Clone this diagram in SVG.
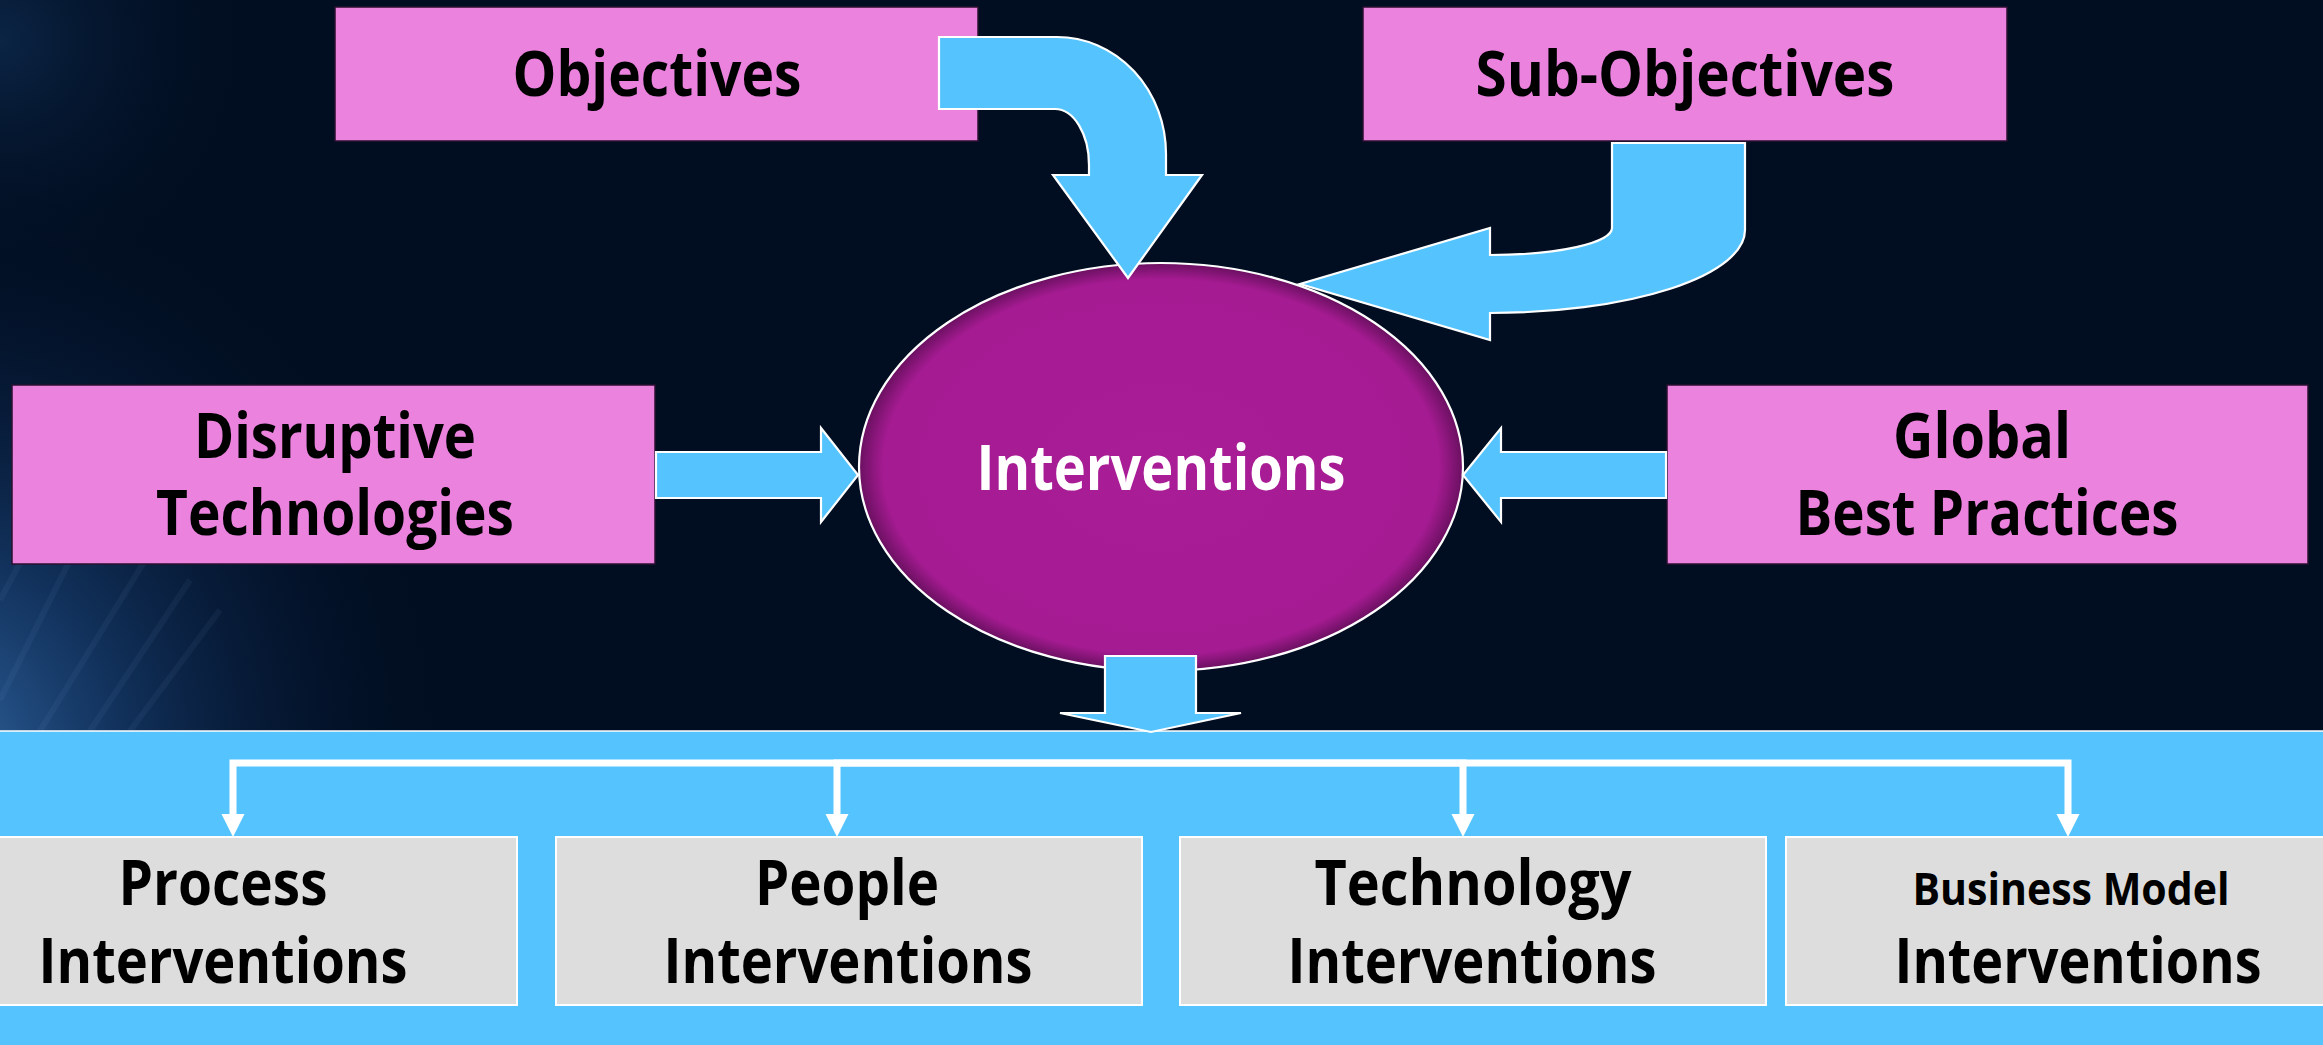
<svg xmlns="http://www.w3.org/2000/svg" width="2323" height="1045" viewBox="0 0 2323 1045">
  <style>
    .lbl { font-family: "Open Sans", "Noto Sans", "DejaVu Sans", sans-serif; font-weight: 700; font-size: 62px; text-anchor: middle; fill: #000000; }
    .small { font-size: 45px; }
    .light { fill: #ffffff; }
    .pink { fill: #EA82DE; stroke: #2a1030; stroke-width: 1.5; }
    .grey { fill: #DDDDDD; stroke: #ffffff; stroke-width: 2; }
    .block { fill: #55C4FE; stroke: #ffffff; stroke-width: 2.2; stroke-linejoin: miter; }
    .tree { fill: none; stroke: #ffffff; stroke-width: 7; }
  </style>
  <defs>
    <radialGradient id="glow" gradientUnits="userSpaceOnUse" cx="-60" cy="760" r="520" gradientTransform="translate(-60 760) scale(1 1.15) translate(60 -760)">
      <stop offset="0" stop-color="#3a76b8" stop-opacity="0.85"/>
      <stop offset="0.35" stop-color="#1f4f8c" stop-opacity="0.55"/>
      <stop offset="0.7" stop-color="#0e2a55" stop-opacity="0.25"/>
      <stop offset="1" stop-color="#010E21" stop-opacity="0"/>
    </radialGradient>
    <radialGradient id="corner" gradientUnits="userSpaceOnUse" cx="0" cy="40" r="260">
      <stop offset="0" stop-color="#12345e" stop-opacity="0.6"/>
      <stop offset="1" stop-color="#010E21" stop-opacity="0"/>
    </radialGradient>
    <radialGradient id="orb" cx="0.5" cy="0.5" r="0.5">
      <stop offset="0" stop-color="#A91D96"/>
      <stop offset="0.92" stop-color="#A51B92"/>
      <stop offset="1" stop-color="#6A1060"/>
    </radialGradient>
    <marker id="tip" markerUnits="userSpaceOnUse" markerWidth="24" markerHeight="24" refX="0" refY="11.5" orient="auto">
      <path d="M0,0 L23,11.5 L0,23 Z" fill="#ffffff"/>
    </marker>
  </defs>

  <!-- backdrop -->
  <rect x="0" y="0" width="2323" height="1045" fill="#010E21"/>
  <rect x="0" y="0" width="700" height="731" fill="url(#glow)"/>
  <rect x="0" y="0" width="300" height="300" fill="url(#corner)"/>
  <g stroke="#8fb8ea" stroke-width="6" opacity="0.06">
    <line x1="0" y1="700" x2="120" y2="460"/>
    <line x1="40" y1="731" x2="170" y2="520"/>
    <line x1="90" y1="731" x2="190" y2="580"/>
    <line x1="0" y1="600" x2="70" y2="470"/>
    <line x1="130" y1="731" x2="220" y2="610"/>
  </g>

  <!-- lower band -->
  <rect x="-5" y="731" width="2333" height="320" fill="#55C4FE" stroke="#ffffff" stroke-width="1.5"/>

  <g id="objectives">
    <rect class="pink" x="335" y="7" width="643" height="134"/>
    <text class="lbl" x="657" y="96" textLength="289" lengthAdjust="spacingAndGlyphs">Objectives</text>
  </g>

  <g id="sub-objectives">
    <rect class="pink" x="1363" y="7" width="644" height="134"/>
    <text class="lbl" x="1685" y="96" textLength="419" lengthAdjust="spacingAndGlyphs">Sub-Objectives</text>
  </g>

  <g id="disruptive-technologies">
    <rect class="pink" x="12" y="385" width="643" height="179"/>
    <text class="lbl" x="335" y="458" textLength="282" lengthAdjust="spacingAndGlyphs">Disruptive</text>
    <text class="lbl" x="335" y="535" textLength="358" lengthAdjust="spacingAndGlyphs">Technologies</text>
  </g>

  <g id="global-best-practices">
    <rect class="pink" x="1667" y="385" width="641" height="179"/>
    <text class="lbl" x="1982" y="458" textLength="178" lengthAdjust="spacingAndGlyphs">Global</text>
    <text class="lbl" x="1987" y="535" textLength="383" lengthAdjust="spacingAndGlyphs">Best Practices</text>
  </g>

  <g id="interventions">
    <ellipse cx="1161" cy="467" rx="302" ry="204" fill="url(#orb)" stroke="#ffffff" stroke-width="2.2"/>
    <text class="lbl light" x="1161" y="490" textLength="369" lengthAdjust="spacingAndGlyphs">Interventions</text>
  </g>

  <g id="process-interventions">
    <rect class="grey" x="-70" y="837" width="587" height="168"/>
    <text class="lbl" x="223" y="905" textLength="209" lengthAdjust="spacingAndGlyphs">Process</text>
    <text class="lbl" x="223" y="983" textLength="369" lengthAdjust="spacingAndGlyphs">Interventions</text>
  </g>

  <g id="people-interventions">
    <rect class="grey" x="556" y="837" width="586" height="168"/>
    <text class="lbl" x="847" y="905" textLength="184" lengthAdjust="spacingAndGlyphs">People</text>
    <text class="lbl" x="848" y="983" textLength="369" lengthAdjust="spacingAndGlyphs">Interventions</text>
  </g>

  <g id="technology-interventions">
    <rect class="grey" x="1180" y="837" width="586" height="168"/>
    <text class="lbl" x="1473" y="905" textLength="317" lengthAdjust="spacingAndGlyphs">Technology</text>
    <text class="lbl" x="1472" y="983" textLength="369" lengthAdjust="spacingAndGlyphs">Interventions</text>
  </g>

  <g id="business-model-interventions">
    <rect class="grey" x="1786" y="837" width="587" height="168"/>
    <text class="lbl small" x="2071" y="905" textLength="317" lengthAdjust="spacingAndGlyphs">Business Model</text>
    <text class="lbl" x="2078" y="983" textLength="367" lengthAdjust="spacingAndGlyphs">Interventions</text>
  </g>

  <!-- block arrows and the distribution tree, drawn over the shapes they touch -->
  <g id="connectors">
    <path class="block" d="M939,37 L1057,37 A109 117 0 0 1 1166,154 L1166,175 L1202,175 L1128,278 L1053,175 L1089,175 L1089,165 A34 56 0 0 0 1055,109 L939,109 Z"/>
    <path class="block" d="M1612,143 L1745,143 L1745,230 A255 83 0 0 1 1490,313 L1490,340 L1300,284 L1490,228 L1490,255 A122 27 0 0 0 1612,228 Z"/>
    <path class="block" d="M656,452 L821,452 L821,428 L858,475 L821,522 L821,498 L656,498 Z"/>
    <path class="block" d="M1666,452 L1501,452 L1501,428 L1463,475 L1501,522 L1501,498 L1666,498 Z"/>
    <path class="block" d="M1105,656 L1196,656 L1196,713 L1241,713 L1151,732 L1060,713 L1105,713 Z"/>
    <path class="tree" d="M1150,763 H233 V814" marker-end="url(#tip)"/>
    <path class="tree" d="M1150,763 H837 V814" marker-end="url(#tip)"/>
    <path class="tree" d="M1150,763 H1463 V814" marker-end="url(#tip)"/>
    <path class="tree" d="M1150,763 H2068 V814" marker-end="url(#tip)"/>
  </g>
</svg>
